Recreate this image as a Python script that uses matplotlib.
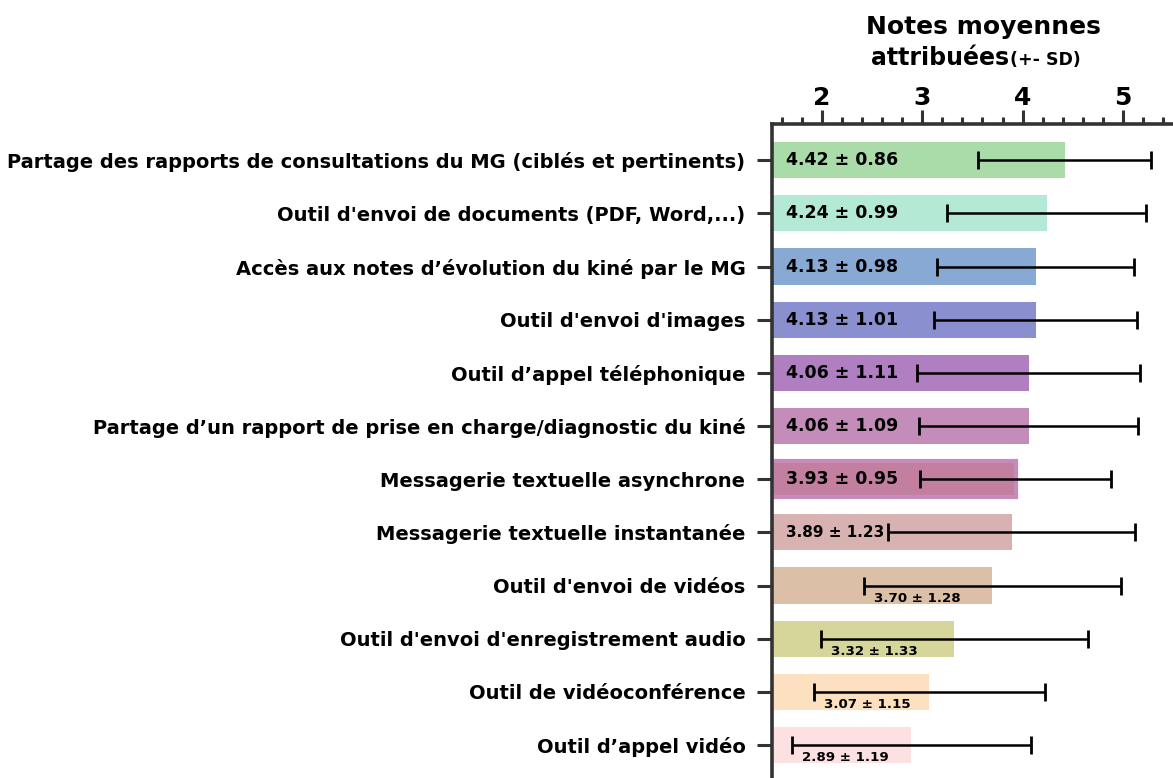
import numpy as np
import matplotlib.pyplot as plt

plt.rcParams['font.family'] = ['DejaVu Sans']
plt.rcParams['font.weight'] = 'bold'

labels = [
    "Partage des rapports de consultations du MG (ciblés et pertinents)",
    "Outil d'envoi de documents (PDF, Word,...)",
    "Accès aux notes d’évolution du kiné par le MG",
    "Outil d'envoi d'images",
    "Outil d’appel téléphonique",
    "Partage d’un rapport de prise en charge/diagnostic du kiné",
    "Messagerie textuelle asynchrone",
    "Messagerie textuelle instantanée",
    "Outil d'envoi de vidéos",
    "Outil d'envoi d'enregistrement audio",
    "Outil de vidéoconférence",
    "Outil d’appel vidéo",
]
means = [4.42, 4.24, 4.13, 4.13, 4.06, 4.06, 3.93, 3.89, 3.70, 3.32, 3.07, 2.89]
sds = [0.86, 0.99, 0.98, 1.01, 1.11, 1.09, 0.95, 1.23, 1.28, 1.33, 1.15, 1.19]
colors = ['#aadcaa', '#b4e9d6', '#87a9d4', '#8a8fd0', '#b07fc1', '#c38cb9',
          '#c27f9f', '#d8b2b1', '#dbbfa7', '#d6d69b', '#fde0c0', '#fde0e1']

x0 = 1.5
fig = plt.figure(figsize=(11.73, 7.78), dpi=100)
ax = fig.add_axes([0.658, 0.0, 0.342, 0.8406])

y = np.arange(len(labels))
widths = np.array(means) - x0
bars = ax.barh(y, widths, left=x0, height=0.68, color=colors)
# la barre "asynchrone" a un contour plus clair
bars[6].set_edgecolor('#c68bbb')
bars[6].set_linewidth(3)

ax.errorbar(means, y, xerr=sds, fmt='none', ecolor='black',
            elinewidth=1.8, capsize=6.5, capthick=2)

for i, (m, s) in enumerate(zip(means, sds)):
    txt = f"{m:.2f} ± {s:.2f}"
    if i < 7:
        ax.text(1.64, i, txt, va='center', ha='left', fontsize=12.5,
                fontweight='bold')
    elif i == 7:
        ax.text(1.64, i, txt, va='center', ha='left', fontsize=11,
                fontweight='bold')
    else:
        ax.text(m - s + 0.1, i + 0.24, txt, va='center', ha='left',
                fontsize=9.6, fontweight='bold')

ax.set_xlim(x0, 5.5)
ax.set_ylim(len(labels) - 0.38, -0.68)
ax.set_yticks(y)
ax.set_yticklabels(labels, fontsize=14, fontweight='bold')
ax.set_xticks([2, 3, 4, 5])
ax.set_xticks(np.arange(1.6, 5.5, 0.2), minor=True)
ax.xaxis.tick_top()
ax.tick_params(axis='x', which='major', labelsize=18, length=10, width=2.2,
               color='#333333', pad=0)
ax.tick_params(axis='x', which='minor', length=5, width=2.2, color='#333333')
ax.tick_params(axis='y', length=11, width=2.2, color='#333333', pad=8)
for lab in ax.get_xticklabels():
    lab.set_fontweight('bold')

for side in ['right', 'bottom']:
    ax.spines[side].set_visible(False)
for side in ['left', 'top']:
    ax.spines[side].set_linewidth(2.6)
    ax.spines[side].set_color('#333333')

fig.text(0.8385, 0.956, "Notes moyennes", ha='center', va='baseline',
         fontsize=18, fontweight='bold')
fig.text(0.860, 0.9165, "attribuées", ha='right', va='baseline',
         fontsize=17, fontweight='bold')
fig.text(0.861, 0.9165, "(+- SD)", ha='left', va='baseline',
         fontsize=12.5, fontweight='bold')

fig.savefig('out.png', dpi=100)
